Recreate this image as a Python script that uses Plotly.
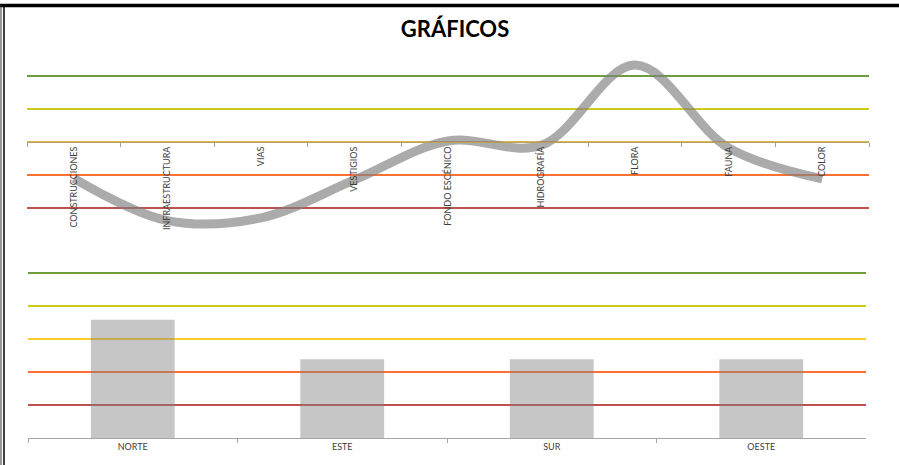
import plotly.graph_objects as go

# ---------------- data ----------------
title_text = "GRÁFICOS"
line_categories = ["CONSTRUCCIONES", "INFRAESTRUCTURA", "VIAS", "VESTIGIOS",
                   "FONDO ESCÉNICO", "HIDROGRAFÍA", "FLORA", "FAUNA", "COLOR"]
line_values = [1.9, 0.62, 0.7, 1.85, 3.03, 2.9, 5.33, 2.82, 1.88]

bar_categories = ["NORTE", "ESTE", "SUR", "OESTE"]
bar_values = [3.58, 2.39, 2.39, 2.39]

threshold_levels = [1, 2, 3, 4, 5]
top_level_colors = ["#c0504d", "#ff7034", "#ddb44c", "#cccc1a", "#6e9e3c"]
bottom_level_colors = ["#c0504d", "#ff7034", "#ffcc29", "#cccc1a", "#6e9e3c"]

# ---------------- geometry helpers ----------------
W, H = 899, 465
def py(p):  # pixel y -> paper y
    return 1 - p / H
def px(p):
    return p / W

fig = go.Figure()

fig.add_trace(go.Scatter(
    x=line_categories, y=line_values, mode="lines",
    line=dict(shape="spline", smoothing=1.0, width=9, color="rgba(128,128,128,0.66)"),
    xaxis="x", yaxis="y", showlegend=False, hoverinfo="x+y"))

fig.add_trace(go.Bar(
    x=bar_categories, y=bar_values,
    marker=dict(color="rgba(128,128,128,0.45)", line=dict(width=0)),
    xaxis="x2", yaxis="y2", showlegend=False))

shapes = []
for lv, c in zip(threshold_levels, top_level_colors):
    shapes.append(dict(type="line", xref="x domain", yref="y", x0=0, x1=1, y0=lv, y1=lv,
                       line=dict(color=c, width=2), layer="below"))
for lv, c in zip(threshold_levels, bottom_level_colors):
    shapes.append(dict(type="line", xref="x2 domain", yref="y2", x0=0, x1=1, y0=lv, y1=lv,
                       line=dict(color=c, width=2), layer="below"))
# frame
shapes.append(dict(type="line", xref="paper", yref="paper", x0=0, x1=1, y0=py(5.5), y1=py(5.5),
                   line=dict(color="black", width=3.5)))
shapes.append(dict(type="line", xref="paper", yref="paper", x0=px(1), x1=px(1), y0=0, y1=py(5),
                   line=dict(color="#333333", width=1)))
shapes.append(dict(type="line", xref="paper", yref="paper", x0=px(4), x1=px(4), y0=0, y1=py(5),
                   line=dict(color="black", width=1.5)))

tick_font = dict(family="Lato, 'Noto Sans', sans-serif", size=9, color="#404040")

top_v0, top_v6 = 241, 43
bot_v0, bot_v6 = 438, 240

fig.update_layout(
    width=W, height=H,
    margin=dict(l=0, r=0, t=0, b=0),
    paper_bgcolor="white", plot_bgcolor="rgba(0,0,0,0)",
    bargap=0.6,
    shapes=shapes,
    title=dict(text="<b>" + title_text + "</b>", x=px(455), xanchor="center",
               y=py(29), yanchor="middle",
               font=dict(family="Lato, 'Noto Sans', sans-serif", size=22, color="black")),
    xaxis=dict(domain=[px(27), px(869)], anchor="free", position=py(142),
               type="category", range=[-0.5, len(line_categories) - 0.5],
               showgrid=False, zeroline=False,
               showline=True, linecolor="#b8a060", linewidth=1,
               ticks="outside", tickson="boundaries", ticklen=4, tickcolor="#a0a0a0",
               tickangle=-90, tickfont=tick_font, fixedrange=True),
    yaxis=dict(domain=[py(top_v0), py(top_v6)], range=[0, 6], visible=False, fixedrange=True),
    xaxis2=dict(domain=[px(28), px(866)], anchor="y2",
                type="category", range=[-0.5, len(bar_categories) - 0.5],
                showgrid=False, zeroline=False,
                showline=True, linecolor="#a6a6a6", linewidth=1,
                ticks="outside", tickson="boundaries", ticklen=4, tickcolor="#a6a6a6",
                tickfont=tick_font, fixedrange=True),
    yaxis2=dict(domain=[py(bot_v0), py(bot_v6)], range=[0, 6], visible=False, fixedrange=True),
)

fig.write_html("out.html", config={"displayModeBar": False},
               post_script="document.body.style.margin='0';")
